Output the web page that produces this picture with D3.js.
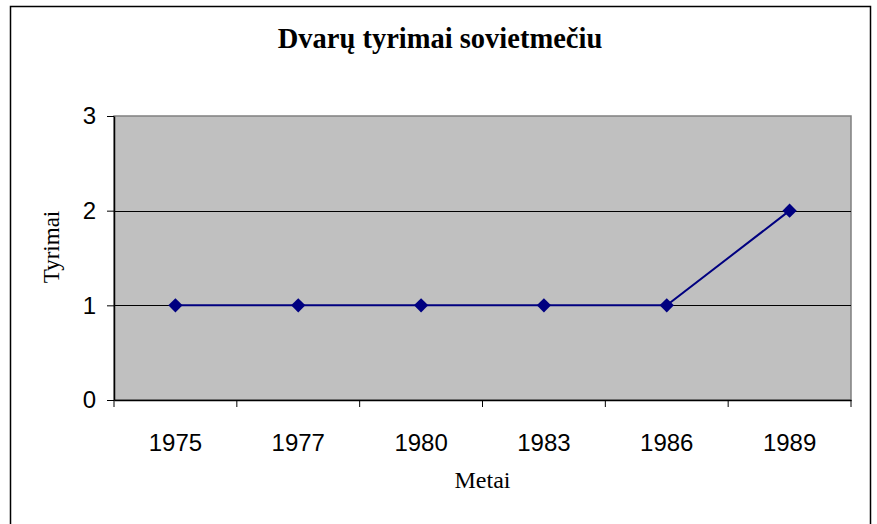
<!DOCTYPE html>
<html>
<head>
<meta charset="utf-8">
<script src="https://cdn.jsdelivr.net/npm/d3@7"></script>
<style>
  body { margin: 0; background: #fff; }
  svg { display: block; }
</style>
</head>
<body>
<div class="chart"></div>
<script>
// chart data
var years = ["1975", "1977", "1980", "1983", "1986", "1989"];
var counts = [1, 1, 1, 1, 1, 2];
var yTicks = [0, 1, 2, 3];

var box = { width: 877, height: 524 };
var plot = { left: 114, top: 116, right: 851, bottom: 400 };

var svg = d3.select(".chart").append("svg")
  .attr("width", box.width)
  .attr("height", box.height);

// outer chart border (bottom edge runs off the picture)
svg.append("rect")
  .attr("x", 10.5).attr("y", 6.5)
  .attr("width", 860).attr("height", 530)
  .attr("fill", "#fff")
  .attr("stroke", "#000")
  .attr("stroke-width", 1.5);

var x = d3.scaleBand().domain(years).range([plot.left, plot.right]);
var y = d3.scaleLinear().domain([0, 3]).range([plot.bottom, plot.top]);

// plot area
svg.append("rect")
  .attr("x", plot.left).attr("y", plot.top)
  .attr("width", plot.right - plot.left)
  .attr("height", plot.bottom - plot.top)
  .attr("fill", "#c0c0c0")
  .attr("stroke", "#808080")
  .attr("stroke-width", 1.5);

// gridlines
svg.selectAll(".grid").data(yTicks.slice(1, 3))
  .enter().append("line")
  .attr("class", "grid")
  .attr("x1", plot.left).attr("x2", plot.right)
  .attr("y1", function(d) { return Math.round(y(d)) + 0.5; })
  .attr("y2", function(d) { return Math.round(y(d)) + 0.5; })
  .attr("stroke", "#000")
  .attr("stroke-width", 1);

// y axis
var yAxis = svg.append("g")
  .attr("transform", "translate(" + plot.left + ",0)")
  .call(d3.axisLeft(y).tickValues(yTicks).tickFormat(d3.format("d"))
    .tickSize(7).tickPadding(11).tickSizeOuter(0));

// x axis: ticks on band edges, labels at centres
var xAxis = svg.append("g")
  .attr("transform", "translate(0," + plot.bottom + ")")
  .call(d3.axisBottom(x).tickSize(0).tickPadding(34).tickSizeOuter(0));

var edges = years.map(function(d) { return x(d); }).concat([plot.right]);
xAxis.selectAll(".edge").data(edges)
  .enter().append("line")
  .attr("class", "edge")
  .attr("x1", function(d) { return d; }).attr("x2", function(d) { return d; })
  .attr("y1", 0).attr("y2", 7)
  .attr("stroke", "#000");

[yAxis, xAxis].forEach(function(g) {
  g.select(".domain").attr("stroke", "#000").attr("stroke-width", 1.5);
  g.selectAll("text")
    .attr("fill", "#000")
    .style("font-family", "Arial, 'Liberation Sans', sans-serif")
    .style("font-size", "24px");
});

// series line
var line = d3.line()
  .x(function(d, i) { return x(years[i]) + x.bandwidth() / 2; })
  .y(function(d) { return y(d); });

svg.append("path")
  .datum(counts)
  .attr("d", line)
  .attr("fill", "none")
  .attr("stroke", "#000080")
  .attr("stroke-width", 2);

svg.selectAll(".pt").data(counts)
  .enter().append("path")
  .attr("class", "pt")
  .attr("d", d3.symbol().type(d3.symbolDiamond2).size(130))
  .attr("transform", function(d, i) {
    return "translate(" + (x(years[i]) + x.bandwidth() / 2) + "," + y(d) + ")";
  })
  .attr("fill", "#000080");

// titles
svg.append("text")
  .attr("x", 440).attr("y", 48)
  .attr("text-anchor", "middle")
  .style("font-family", "'Liberation Serif', 'Times New Roman', serif")
  .style("font-weight", "bold")
  .style("font-size", "28.5px")
  .text("Dvarų tyrimai sovietmečiu");

svg.append("text")
  .attr("transform", "translate(59,247) rotate(-90)")
  .attr("text-anchor", "middle")
  .style("font-family", "'Liberation Serif', 'Times New Roman', serif")
  .style("font-size", "23px")
  .text("Tyrimai");

svg.append("text")
  .attr("x", (plot.left + plot.right) / 2).attr("y", 488)
  .attr("text-anchor", "middle")
  .style("font-family", "'Liberation Serif', 'Times New Roman', serif")
  .style("font-size", "24px")
  .text("Metai");
</script>
</body>
</html>
